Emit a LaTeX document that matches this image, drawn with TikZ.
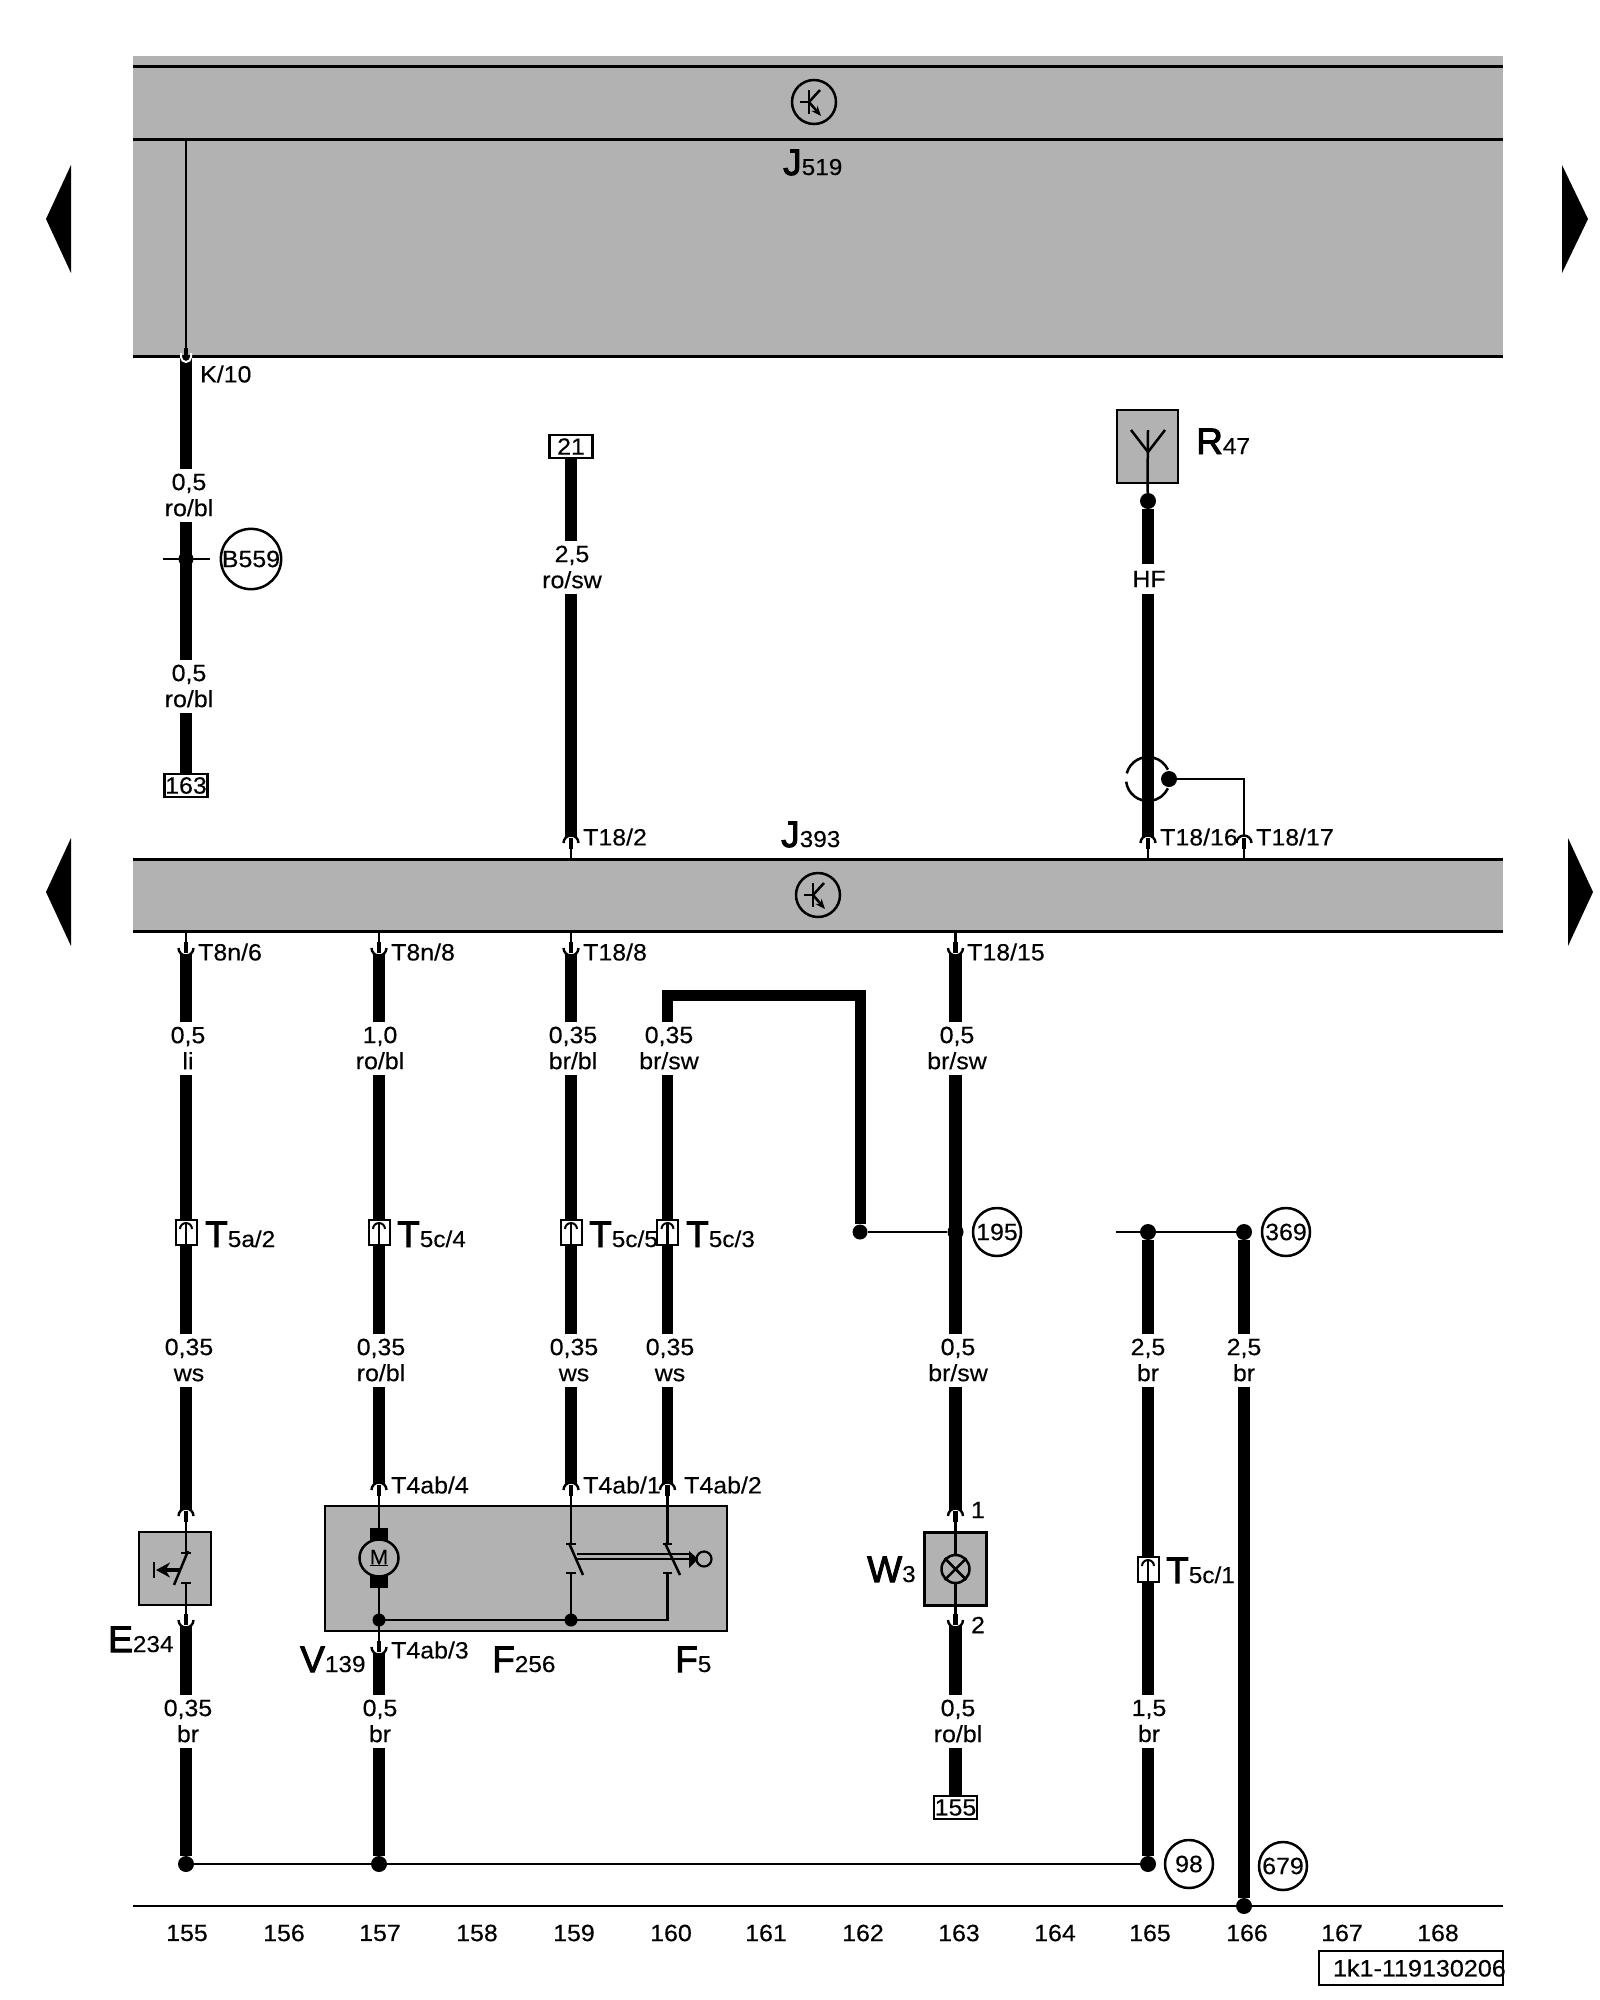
\documentclass[tikz,border=0pt]{standalone}
\usepackage{fontspec}
\setmainfont[FakeStretch=1.06,FakeBold=0.3]{Liberation Sans}
\newfontfamily\bigfam[FakeBold=2.6]{Liberation Sans}
\usetikzlibrary{arrows.meta,shapes.geometric,calc}
\definecolor{bg}{HTML}{B2B2B2}
\newcommand\fs{\fontsize{23.5}{26}\selectfont}
\newcommand\fb{\bigfam\fontsize{37}{37}\selectfont}
\newcommand\fsub{\normalfont\fontsize{23}{24}\selectfont}
\newcommand\biglab[4]{\node[anchor=base west,inner sep=0pt] (#1) at (#2) {\fb #3\fsub #4};}
\newcommand\wlab[4]{\node[wlabel] (#1) at (#2) {#3\\#4};}
\newcommand\pinD[1]{%
  \fill[white] ([xshift=-7.5pt]#1) arc[start angle=180,end angle=360,radius=7.5pt];
  \draw[thin wire,line width=2.4pt] ([xshift=-7.5pt]#1) arc[start angle=180,end angle=360,radius=7.5pt];
  \draw[line width=4.5pt] ([yshift=6pt]#1) -- ([yshift=-5pt]#1);}
\newcommand\pinU[1]{%
  \fill[white] ([xshift=-7.5pt]#1) arc[start angle=180,end angle=0,radius=7.5pt];
  \draw[thin wire,line width=2.4pt] ([xshift=-7.5pt]#1) arc[start angle=180,end angle=0,radius=7.5pt];
  \draw[line width=4.5pt] ([yshift=-6pt]#1) -- ([yshift=5pt]#1);}
\newcommand\tconn[2]{%
  \node[tbox] (#1) at (#2) {};
  \draw[line width=2pt] ([xshift=-6pt,yshift=3pt]#1.center) arc[start angle=180,end angle=0,radius=6pt];
  \draw[line width=2.6pt] ([yshift=8pt]#1.center) -- ([yshift=-12pt]#1.center);}
\newcommand\transist[1]{%
  \draw[thin wire] ([xshift=-14pt]#1.center) -- ([xshift=-5pt]#1.center);
  \draw[thin wire] ([xshift=-5pt,yshift=12pt]#1.center) -- ([xshift=-5pt,yshift=-12pt]#1.center);
  \draw[thin wire] ([xshift=-5pt]#1.center) -- ([xshift=6pt,yshift=12pt]#1.center);
  \draw[thin wire,-{Stealth[length=10pt,width=8pt]}] ([xshift=-5pt]#1.center) -- ([xshift=7pt,yshift=-14pt]#1.center);}
\tikzset{
  wire/.style={line width=12.5pt,line cap=butt},
  thin wire/.style={line width=2.5pt},
  wlabel/.style={fill=white,inner sep=0pt,align=center,font=\fs,minimum height=53pt},
  small/.style={font=\fs,inner sep=0pt},
  pinlabel/.style={font=\fs,inner sep=0pt,anchor=west},
  unit/.style={draw=black,line width=2.2pt,fill=bg,inner sep=0pt},
  numbox/.style={draw=black,line width=2.5pt,fill=white,inner sep=0pt,font=\fs,minimum width=43pt,minimum height=23pt},
  tbox/.style={draw=black,line width=2pt,fill=white,inner sep=0pt,minimum width=21pt,minimum height=25pt},
  dot/.style={circle,fill=black,inner sep=0pt,minimum size=16pt},
  ring/.style={circle,draw=black,line width=2.5pt,fill=white,inner sep=0pt,minimum size=48pt,font=\fs},
  trans/.style={circle,draw=black,line width=2.5pt,inner sep=0pt,minimum size=44pt},
  tick/.style={line width=2.5pt},
  sidearrow/.style={fill=black},
}
\begin{document}
\begin{tikzpicture}[x=1pt,y=-1pt]
\useasboundingbox (0,0) rectangle (1600,2000);
% ---------- units
\node[fill=bg,inner sep=0pt,minimum width=1370pt,minimum height=300pt] (J519) at (818,206) {};
\node[fill=bg,inner sep=0pt,minimum width=1370pt,minimum height=71pt] (J393) at (818,895.5) {};
\draw[thin wire,line width=3pt] (133,66) -- (1503,66);
\draw[thin wire,line width=3pt] (133,139) -- (1503,139);
\draw[thin wire,line width=3pt] (J519.south west) -- (J519.south east);
\draw[thin wire,line width=3pt] (J393.north west) -- (J393.north east);
\draw[thin wire,line width=3pt] (J393.south west) -- (J393.south east);
\node[trans] (tr1) at (814,102) {}; \transist{tr1}
\node[trans] (tr2) at (818,895) {}; \transist{tr2}
\biglab{lJ519}{783,175}{J}{519}
\biglab{lJ393}{781,847}{J}{393}
% side arrows
\fill[sidearrow] (71,165) -- (46,219) -- (71,273) -- cycle;
\fill[sidearrow] (71,838) -- (46,892) -- (71,946) -- cycle;
\fill[sidearrow] (1562,165) -- (1588,219) -- (1562,273) -- cycle;
\fill[sidearrow] (1568,838) -- (1593,892) -- (1568,946) -- cycle;
% ---------- component boxes
\node[unit,minimum width=72pt,minimum height=73pt] (E234) at (175,1568.5) {};
\node[unit,minimum width=402pt,minimum height=125pt] (M) at (526,1568.5) {};
\node[unit,minimum width=62pt,minimum height=73pt] (W3) at (955.5,1569) {};
\node[unit,minimum width=61pt,minimum height=73pt] (R47) at (1147.5,446.5) {};
% ---------- named points
\coordinate (pK) at (186,357);
\coordinate (p182) at (571,843);
\coordinate (p1816) at (1148,843);
\coordinate (p1817) at (1244,843);
\coordinate (p86) at (186,948);
\coordinate (p88) at (379,948);
\coordinate (p188) at (571,948);
\coordinate (p1815) at (955.5,948);
\coordinate (pE1) at (186,1516);
\coordinate (pE2) at (186,1620);
\coordinate (pV4) at (379,1490);
\coordinate (pF1) at (571,1490);
\coordinate (pF2) at (667.5,1490);
\coordinate (pV3) at (379,1647);
\coordinate (pW1) at (955.5,1516);
\coordinate (pW2) at (955.5,1620);
\node[numbox] (b163) at (186,785.5) {163};
\node[numbox] (b21) at (571,446.5) {21};
\node[numbox] (b155) at (955.5,1807.5) {155};
\node[dot] (dR) at (1148,501) {};
\node[dot] (dHF) at (1169,779) {};
\node[dot,minimum size=15pt] (dB) at (186,559) {};
\node[dot,minimum size=15pt] (d195a) at (860,1232) {};
\node[dot] (d195) at (955.5,1232) {};
\node[dot] (d369a) at (1148,1232) {};
\node[dot] (d369) at (1244,1232) {};
\node[dot] (g1) at (186,1864) {};
\node[dot] (g2) at (379,1864) {};
\node[dot] (g3) at (1148,1864) {};
\node[dot] (g4) at (1244,1906) {};
\coordinate (c3a) at (667.5,995.5);
\coordinate (c3b) at (860,995.5);
\coordinate (l369) at (1116,1232);
% ---------- thick wires
\draw[wire] (pK) -- (b163.north);
\draw[wire] (b21.south) -- (p182);
\draw[wire] (dR) -- (p1816);
\draw[wire] (p86) -- (pE1);
\draw[wire] (p88) -- (pV4);
\draw[wire] (p188) -- (pF1);
\draw[wire,line width=11pt,line cap=butt] (pF2) -- (c3a) -- (c3b) -- (d195a);
\draw[wire] (p1815) -- (pW1);
\draw[wire] (pE2) -- (g1);
\draw[wire] (pV3) -- (g2);
\draw[wire] (pW2) -- (b155.north);
\draw[wire] (d369a) -- (g3);
\draw[wire] (d369) -- (g4);
% ---------- thin wires
\draw[thin wire] (186,139) -- (pK);
\draw[thin wire] (163,559) -- (210,559);
\draw[thin wire] (R47.south) -- (dR);
\draw[thin wire] (p182) -- (p182 |- J393.north);
\draw[thin wire] (p1816) -- (p1816 |- J393.north);
\draw[thin wire] (dHF) -| (p1817);
\draw[thin wire] (p1817) -- (p1817 |- J393.north);
\draw[thin wire] (p86) -- (p86 |- J393.south);
\draw[thin wire] (p88) -- (p88 |- J393.south);
\draw[thin wire] (p188) -- (p188 |- J393.south);
\draw[thin wire] (p1815) -- (p1815 |- J393.south);
\draw[thin wire] (d195a) -- (d195);
\draw[thin wire] (l369) -- (d369a) -- (d369);
\draw[thin wire] (g1) -- (g2) -- (g3);
\draw[thin wire] (133,1906) -- (1503,1906);
% ---------- pins
\draw[line width=4.5pt] ([yshift=9pt]pK) -- ([yshift=-1pt]pK);
\draw[white,line width=2pt] ([xshift=-5pt,yshift=4pt]pK) -- ([xshift=-5pt]pK) arc[start angle=180,end angle=360,radius=5pt] -- ([xshift=5pt,yshift=4pt]pK);
\pinU{p182} \pinU{p1816} \pinU{p1817}
\pinD{p86} \pinD{p88} \pinD{p188} \pinD{p1815}
\pinU{pE1} \pinD{pE2}
\pinU{pV4} \pinU{pF1} \pinU{pF2} \pinD{pV3}
\pinU{pW1} \pinD{pW2}
% ---------- HF loop
\draw[line width=2.5pt] (1148,779) ++(187:22pt) arc[start angle=187,end angle=335,radius=22pt];
\draw[line width=2.5pt] (1148,779) ++(165:22pt) arc[start angle=165,end angle=25,radius=22pt];
% ---------- R47 antenna
\draw[thin wire] (R47.south) -- (1148,430);
\draw[thin wire] (1131,430) -- (1148,452) -- (1165,430);
% ---------- E234
\draw[thin wire] (pE1) -- (186,1553);
\draw[thin wire] (186,1583) -- (pE2);
\draw[tick] (181,1553) -- (191,1553);
\draw[tick] (181,1583) -- (191,1583);
\draw[thin wire] (188,1551) -- (174,1585);
\draw[line width=4pt,-{Stealth[length=14pt,width=15pt]}] (180,1570) -- (156,1570);
\draw[line width=2.8pt] (154,1562) -- (154,1578);
% ---------- V139
\draw[thin wire] (pV4) -- (379,1530);
\draw[thin wire] (379,1586) -- (pV3);
\fill (370,1528) rectangle (388,1588);
\node[ellipse,draw=black,line width=2.5pt,fill=bg,inner sep=0pt,minimum width=39pt,minimum height=37pt,font=\fontsize{21}{21}\selectfont] (motor) at (379,1558) {\underline{M}};
% ---------- switches
\draw[thin wire] (pF1) -- (571,1544);
\draw[thin wire] (571,1573) -- (571,1620);
\draw[thin wire] (pF2) -- (667.5,1544);
\draw[thin wire] (667.5,1573) -- (667.5,1620) -- (379,1620);
\node[dot,minimum size=13pt] (jV) at (379,1620) {};
\node[dot,minimum size=13pt] (jF) at (571,1620) {};
\draw[tick] (566,1544) -- (576,1544);
\draw[tick] (566,1573) -- (576,1573);
\draw[tick] (663,1544) -- (672,1544);
\draw[tick] (663,1573) -- (672,1573);
\draw[thin wire] (569,1543) -- (583,1575);
\draw[thin wire] (665,1543) -- (680,1575);
\draw[line width=2pt] (577,1554) -- (690,1554);
\draw[line width=2pt] (577,1559) -- (690,1559);
\fill (689,1551) -- (698,1559) -- (689,1568) -- cycle;
\node[circle,draw=black,line width=2.2pt,inner sep=0pt,minimum size=15pt] (knob) at (704,1559) {};
% ---------- lamp
\draw[thin wire] (pW1) -- (W3.north);
\draw[thin wire] (W3.south) -- (pW2);
\draw[thin wire] (pW1) -- (955.5,1555);
\draw[thin wire] (955.5,1583) -- (pW2);
\node[circle,draw=black,line width=2.5pt,inner sep=0pt,minimum size=28pt] (lamp) at (955.5,1569) {};
\draw[thin wire] (lamp.north west) -- (lamp.south east);
\draw[thin wire] (lamp.north east) -- (lamp.south west);
% ---------- T connectors
\tconn{t1}{186,1232}
\tconn{t2}{379,1232}
\tconn{t3}{571,1232}
\tconn{t4}{667.5,1232}
\tconn{t5}{1148,1569}
\biglab{lt1}{205,1247}{T}{5a/2}
\biglab{lt2}{397,1247}{T}{5c/4}
\biglab{lt3}{589,1247}{T}{5c/5}
\biglab{lt4}{686,1247}{T}{5c/3}
\biglab{lt5}{1166,1583}{T}{5c/1}
% ---------- wire labels
\wlab{w1}{189,495}{0,5}{ro/bl}
\wlab{w2}{189,686}{0,5}{ro/bl}
\wlab{w3}{572,567}{2,5}{ro/sw}
\wlab{w4}{188,1048}{0,5}{li}
\wlab{w5}{380,1048}{1,0}{ro/bl}
\wlab{w6}{573,1048}{0,35}{br/bl}
\wlab{w7}{669,1048}{0,35}{br/sw}
\wlab{w8}{957,1048}{0,5}{br/sw}
\wlab{w9}{189,1360}{0,35}{ws}
\wlab{w10}{381,1360}{0,35}{ro/bl}
\wlab{w11}{574,1360}{0,35}{ws}
\wlab{w12}{670,1360}{0,35}{ws}
\wlab{w13}{958,1360}{0,5}{br/sw}
\wlab{w14}{1148,1360}{2,5}{br}
\wlab{w15}{1244,1360}{2,5}{br}
\wlab{w16}{188,1721}{0,35}{br}
\wlab{w17}{380,1721}{0,5}{br}
\wlab{w18}{958,1721}{0,5}{ro/bl}
\wlab{w19}{1149,1721}{1,5}{br}
\node[fill=white,inner sep=0pt,font=\fs,minimum height=30pt] (wHF) at (1149,579) {HF};
% ---------- pin labels
\node[pinlabel] (nK) at (200,374) {K/10};
\node[pinlabel] (n1) at (583,837) {T18/2};
\node[pinlabel] (n2) at (1160,837) {T18/16};
\node[pinlabel] (n3) at (1256,837) {T18/17};
\node[pinlabel] (n4) at (198,952) {T8n/6};
\node[pinlabel] (n5) at (391,952) {T8n/8};
\node[pinlabel] (n6) at (583,952) {T18/8};
\node[pinlabel] (n7) at (967,952) {T18/15};
\node[pinlabel] (n8) at (391,1485) {T4ab/4};
\node[pinlabel] (n9) at (583,1485) {T4ab/1};
\node[pinlabel] (n10) at (684,1485) {T4ab/2};
\node[pinlabel] (n11) at (391,1650) {T4ab/3};
\node[small] (n12) at (978,1510) {1};
\node[small] (n13) at (978,1625) {2};
% ---------- rings
\node[ring,fill=none] (rB) at (251,559) {B559};
\node[ring] (r195) at (997,1232) {195};
\node[ring] (r369) at (1286,1232) {369};
\node[ring] (r98) at (1189,1864) {98};
\node[ring] (r679) at (1283,1866) {679};
% ---------- component names
\biglab{lE}{108,1652}{E}{234}
\biglab{lV}{300,1672}{V}{139}
\biglab{lF1}{492,1672}{F}{256}
\biglab{lF2}{675,1672}{F}{5}
\biglab{lW}{867,1582}{W}{3}
\biglab{lR}{1196,454}{R}{47}
% ---------- column numbers
\foreach \n/\xx in {155/187,156/284,157/380,158/477,159/574,160/671,161/766,162/863,163/959,164/1055,165/1150,166/1247,167/1342,168/1438}
  \node[small] (col\n) at (\xx,1933) {\n};
\node[draw=black,line width=2.5pt,inner sep=0pt,minimum width=184pt,minimum height=34pt] (docbox) at (1411,1968) {};
\node[font=\fontsize{23.7}{25}\selectfont,inner sep=0pt,anchor=east] (doc) at (1506,1968) {1k1-119130206};
\end{tikzpicture}
\end{document}
